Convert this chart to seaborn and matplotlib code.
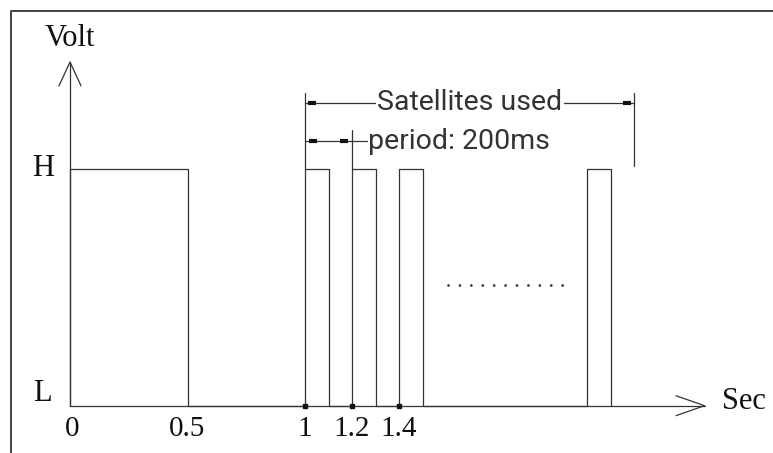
import pandas as pd
import matplotlib
matplotlib.use('Agg')
import matplotlib.pyplot as plt
import seaborn as sns

# --- Dados do sinal (segundos / nível lógico) ---
pulse_start = [0.0, 1.0, 1.2, 1.4, 2.2]
pulse_end = [0.5, 1.1, 1.3, 1.5, 2.3]
tick_values = [0, 0.5, 1, 1.2, 1.4]
tick_labels = ['0', '0.5', '1', '1.2', '1.4']
marked_ticks = [1, 1.2, 1.4]
level_names = ['L', 'H']
level_values = [0, 1]
period_span = [1.0, 1.2]
satellite_span = [1.0, 2.4]

# montar a forma de onda a partir dos pulsos
xs, ys = [0.0], [0]
for s, e in zip(pulse_start, pulse_end):
    xs += [s, s, e, e]
    ys += [0, 1, 1, 0]
wave = pd.DataFrame({'t': xs, 'v': ys, 'ordem': range(len(xs))})

sns.set_style("white")
serif = ['Liberation Serif', 'DejaVu Serif']
cad = ['Roboto', 'DejaVu Sans']
line_c = '#333333'

fig = plt.figure(figsize=(7.73, 4.53), dpi=100)
ax = fig.add_axes([0, 0, 1, 1])
ax.set_xlim(-70 / 235, 703 / 235)
ax.set_ylim(-47.3 / 236.7, 405.7 / 236.7)
ax.axis('off')

# moldura (apenas topo e esquerda visíveis)
ax.plot([11 / 773, 11 / 773, 1], [0, 1 - 11 / 453, 1 - 11 / 453],
        transform=ax.transAxes, color='#444444', lw=1.4, clip_on=False)

# forma de onda
sns.lineplot(data=wave, x='t', y='v', sort=False, estimator=None,
             color=line_c, lw=0.9, ax=ax)

# eixos com setas abertas
ax.plot([0, 2.70], [0, 0], color=line_c, lw=0.9)
ax.plot([2.579, 2.70, 2.579], [0.042, 0, -0.042], color=line_c, lw=0.9)
ax.plot([0, 0], [0, 1.452], color=line_c, lw=0.9)
ax.plot([-0.047, 0, 0.047], [1.351, 1.452, 1.351], color=line_c, lw=0.9)

# marcas e rótulos do eixo x
ax.plot(marked_ticks, [0] * len(marked_ticks), 's', color='#111111', ms=2.5)
for v, lab in zip(tick_values, tick_labels):
    ax.text(v + (0.008 if v == 0 else 0), -0.098, lab, ha='center', va='center',
            fontsize=21, family=serif, color='#111111')

# níveis H / L
ax.text(-0.115, level_values[1] + 0.0, level_names[1], ha='center', va='center',
        fontsize=22, family=serif, color='#111111')
ax.text(-0.119, level_values[0] + 0.05, level_names[0], ha='center', va='center',
        fontsize=22, family=serif, color='#111111')
ax.text(0, 1.553, 'Volt', ha='center', va='center', fontsize=22, family=serif, color='#111111')
ax.text(2.774, 0.016, 'Sec', ha='left', va='center', fontsize=22, family=serif, color='#111111')

# reticências entre os pulsos
ax.plot([1.609, 2.10], [0.51, 0.51], color='#333333', lw=2,
        linestyle=(0, (0.01, 4.1)), dash_capstyle='round')

# cota "Satellites used"
ax.plot([satellite_span[0]] * 2, [1.321, 1.0], color=line_c, lw=0.9)
ax.plot([satellite_span[1]] * 2, [1.321, 1.013], color=line_c, lw=0.9)
ax.plot(satellite_span, [1.279, 1.279], color=line_c, lw=0.9)
ax.plot([satellite_span[0] + 0.03, satellite_span[1] - 0.03], [1.279, 1.279], '_',
        color='#111111', ms=6, mew=3)
ax.text(1.702, 1.279, 'Satellites used', ha='center', va='center', fontsize=20.5,
        family=cad, weight='normal', color='#333333',
        bbox=dict(facecolor='white', edgecolor='none', pad=1))

# cota "period: 200ms"
ax.plot([period_span[1]] * 2, [1.165, 1.0], color=line_c, lw=0.9)
ax.plot([period_span[0], 1.262], [1.118, 1.118], color=line_c, lw=0.9)
ax.plot([period_span[0] + 0.035, period_span[1] - 0.035], [1.118, 1.118], '_',
        color='#111111', ms=6, mew=3)
ax.text(1.268, 1.118, 'period: 200ms', ha='left', va='center', fontsize=20.5,
        family=cad, weight='normal', color='#333333')

fig.savefig('out.png', dpi=100)
